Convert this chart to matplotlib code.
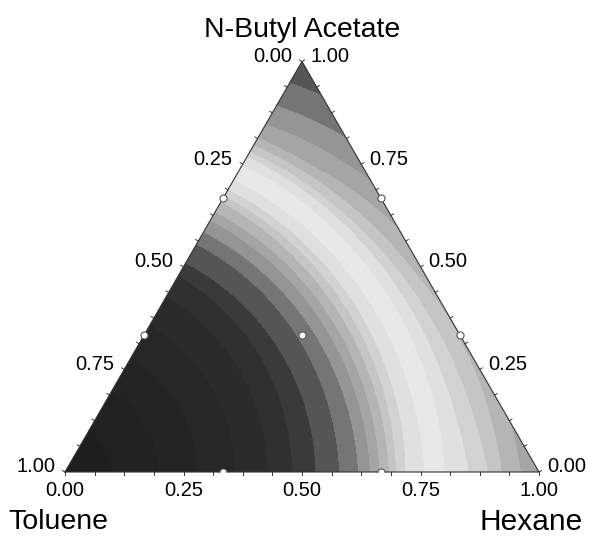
import numpy as np
import matplotlib
matplotlib.use("Agg")
import matplotlib.pyplot as plt
from matplotlib.patches import Polygon, Rectangle

plt.rcParams['font.family'] = ['Liberation Sans', 'DejaVu Sans']

# Mixture components (vertex names)
comp_left = "Toluene"
comp_right = "Hexane"
comp_top = "N-Butyl Acetate"

tick_values = [0.00, 0.25, 0.50, 0.75, 1.00]
tick_labels = ["0.00", "0.25", "0.50", "0.75", "1.00"]

# Response along the Toluene-Hexane edge, versus distance from the Toluene vertex
hex_dist = [0.00, 0.10, 0.20, 0.28, 0.36, 0.43, 0.48, 0.53, 0.58, 0.62, 0.645,
            0.665, 0.685, 0.70, 0.72, 0.76, 0.78, 0.80, 0.85, 0.89, 0.92, 0.96, 1.00]
hex_resp = [0.3, 1.0, 2.0, 3.0, 4.0, 5.0, 6.0, 7.0, 8.0, 9.0, 10.0,
            11.0, 12.0, 13.0, 14.0, 15.0, 15.6, 15.0, 14.0, 13.0, 12.0, 11.0, 9.8]
hex_peak = 0.78

# Response along the Toluene-N-Butyl Acetate edge, versus distance from the Toluene vertex
ace_dist = [0.00, 0.10, 0.20, 0.28, 0.36, 0.43, 0.48, 0.51, 0.55, 0.58, 0.61,
            0.63, 0.66, 0.68, 0.70, 0.73, 0.76, 0.785, 0.82, 0.88, 0.94, 1.00]
ace_resp = [0.3, 1.0, 2.0, 3.0, 4.0, 5.0, 6.0, 7.0, 7.8, 8.8, 9.8,
            10.8, 12.0, 13.5, 14.5, 15.6, 14.5, 12.5, 10.6, 9.2, 8.1, 7.2]
ace_peak = 0.73

# band shades, lowest response first
band_grays = ["#1e1e1e", "#212121", "#242424", "#272727", "#2b2b2b", "#303030",
              "#3a3a3a", "#555555", "#757575", "#959595", "#a5a5a5", "#b5b5b5",
              "#c5c5c5", "#d2d2d2", "#e0e0e0", "#e8e8e8"]

# design points (Toluene, Hexane, N-Butyl Acetate)
design_tol = [2/3, 1/3, 2/3, 1/3, 0.0, 0.0, 1/3]
design_hex = [1/3, 2/3, 0.0, 0.0, 2/3, 1/3, 1/3]
design_ace = [0.0, 0.0, 1/3, 2/3, 1/3, 2/3, 1/3]

S3 = np.sqrt(3) / 2


def to_xy(hexane, acetate):
    hexane = np.asarray(hexane, float)
    acetate = np.asarray(acetate, float)
    return hexane + 0.5 * acetate, S3 * acetate


W, H = 590, 536
fig = plt.figure(figsize=(W / 100, H / 100), dpi=100)
ax = fig.add_axes([0, 0, 1, 1])
scale = 474.0
x0, ybase = 65.0, 472.0
ax.set_xlim(-x0 / scale, (W - x0) / scale)
ax.set_ylim(-(H - ybase) / scale, ybase / scale)
ax.axis('off')

# response surface: the two edge profiles, aligned on their maxima, blended by
# direction from the Toluene vertex
gx, gy = np.meshgrid(np.linspace(-0.01, 1.01, 760), np.linspace(-0.01, S3 + 0.01, 680))
r = np.hypot(gx, gy)
w = np.clip(np.arctan2(gy, gx) / (np.pi / 3), 0, 1)
rp = (1 - w) * hex_peak + w * ace_peak
z = ((1 - w) * np.interp(r * hex_peak / rp, hex_dist, hex_resp)
     + w * np.interp(r * ace_peak / rp, ace_dist, ace_resp))

levels = np.arange(0, len(band_grays) + 1)
cs = ax.contourf(gx, gy, z, levels=levels, colors=band_grays)
cs.set_edgecolor('face')
cs.set_linewidth(0.4)
tri = Polygon([[0, 0], [1, 0], [0.5, S3]], closed=True, transform=ax.transData,
              facecolor='none', edgecolor='none')
ax.add_patch(tri)
cs.set_clip_path(tri)

# triangle outline
ax.plot([0, 1, 0.5, 0], [0, 0, S3, 0], color='#333333', lw=0.8, solid_joinstyle='miter')

# minor ticks every 1/16 on each edge
tl = 3.0 / scale
for f in np.arange(0, 1.0001, 1 / 16):
    ax.plot([f, f], [0, -tl], color='#333333', lw=0.7)
    px, py = to_xy(0, f)
    ax.plot([px, px - S3 * tl], [py, py + 0.5 * tl], color='#333333', lw=0.7)
    px, py = to_xy(1 - f, f)
    ax.plot([px, px + S3 * tl], [py, py + 0.5 * tl], color='#333333', lw=0.7)

# design points
mx, my = to_xy(design_hex, design_ace)
dots = ax.scatter(mx, my, s=26, marker='o', facecolor='white', edgecolor='#555555',
                  linewidths=0.8, zorder=5)
clip = Rectangle((-1, 0), 3, 2, transform=ax.transData, facecolor='none', edgecolor='none')
ax.add_patch(clip)
dots.set_clip_path(clip)

px_ = 1.0 / scale
fs_tick = 14.5
# bottom axis: Hexane fraction
for v, lab in zip(tick_values, tick_labels):
    ax.text(v, -19 * px_, lab, ha='center', va='center', fontsize=fs_tick)
# left axis: Toluene fraction (1 at the Toluene vertex)
for v, lab in zip(tick_values, tick_labels):
    px, py = to_xy(0, 1 - v)
    ax.text(px - 10 * px_, py + 5 * px_, lab, ha='right', va='center', fontsize=fs_tick)
# right axis: N-Butyl Acetate fraction
for v, lab in zip(tick_values, tick_labels):
    px, py = to_xy(1 - v, v)
    ax.text(px + 8 * px_, py + 5 * px_, lab, ha='left', va='center', fontsize=fs_tick)

fs_name = 20.5
ax.text(0.5, S3 + 32 * px_, comp_top, ha='center', va='center', fontsize=fs_name)
ax.text(-57 * px_, -50 * px_, comp_left, ha='left', va='center', fontsize=fs_name)
ax.text(1 + 44 * px_, -50 * px_, comp_right, ha='right', va='center', fontsize=21.5)

fig.savefig("out.png", dpi=100)
